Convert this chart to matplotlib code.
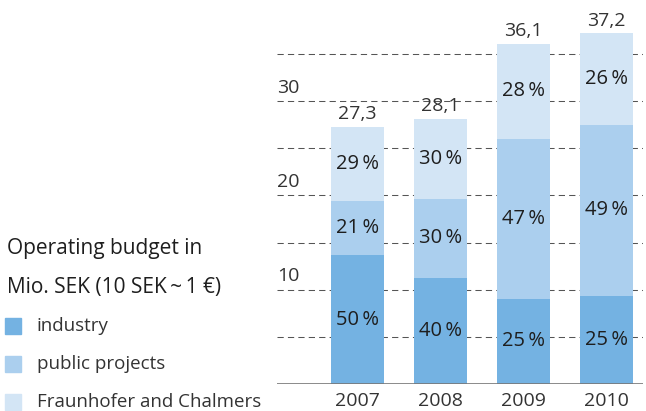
import matplotlib
matplotlib.use("Agg")
import matplotlib.pyplot as plt
from matplotlib.patches import Rectangle

plt.rcParams['font.family'] = ['Open Sans', 'DejaVu Sans']

# operating budget, Mio. SEK
years = ['2007', '2008', '2009', '2010']
totals = [27.3, 28.1, 36.1, 37.2]
industry_pct = [50, 40, 25, 25]
public_pct = [21, 30, 47, 49]
fraunhofer_pct = [29, 30, 28, 26]
total_labels = ['27,3', '28,1', '36,1', '37,2']

series_names = ['industry', 'public projects', 'Fraunhofer and Chalmers']
colors = ['#74b2e2', '#abcfee', '#d3e5f5']
text_col = '#1e1e1e'

fig = plt.figure(figsize=(6.46, 4.11), dpi=100)
ax = fig.add_axes([277 / 646, 27 / 411, 366 / 646, 377 / 411])

x = list(range(len(years)))
width = 0.64

# dashed grid every 5 units, behind the bars
for v in range(5, 40, 5):
    ax.axhline(v, color='#555555', lw=0.75, dashes=(6, 4), zorder=0)
ax.axhline(0, color='#777777', lw=1.2, zorder=3)

bottoms = [0.0] * len(years)
for pcts, col in zip([industry_pct, public_pct, fraunhofer_pct], colors):
    heights = [t * p / 100 for t, p in zip(totals, pcts)]
    ax.bar(x, heights, width, bottom=bottoms, color=col, zorder=2)
    for i, (h, b, p) in enumerate(zip(heights, bottoms, pcts)):
        ax.text(x[i], b + h / 2, '%d\u2009%%' % p, ha='center', va='center',
                fontsize=14.5, color=text_col, zorder=4)
    bottoms = [b + h for b, h in zip(bottoms, heights)]

for i, t in enumerate(totals):
    ax.text(x[i], t + 0.4, total_labels[i], ha='center', va='bottom',
            fontsize=14, color='#333333')
    ax.text(x[i], -0.9, years[i], ha='center', va='top',
            fontsize=14, color='#333333')

# y labels sit above their grid line
for v in [10, 20, 30]:
    ax.text(-0.97, v + 0.5, str(v), ha='left', va='bottom',
            fontsize=14, color='#333333')

ax.set_xlim(-0.97, 3.44)
ax.set_ylim(0, 40)
ax.axis('off')

# legend block on the left
fig.text(7 / 646, 1 - 248 / 411, 'Operating budget in', ha='left', va='center',
         fontsize=15, color=text_col)
fig.text(7 / 646, 1 - 287 / 411, 'Mio. SEK (10 SEK\u2009~\u20091 €)', ha='left', va='center',
         fontsize=15, color=text_col)
for k, (name, col) in enumerate(zip(series_names, colors)):
    yc = 326 + k * 38
    fig.add_artist(Rectangle((5 / 646, 1 - (yc + 8) / 411), 16 / 646, 16 / 411,
                             transform=fig.transFigure, color=col))
    fig.text(37 / 646, 1 - yc / 411, name, ha='left', va='center',
             fontsize=13.5, color='#333333')

fig.savefig('out.png', dpi=100)
